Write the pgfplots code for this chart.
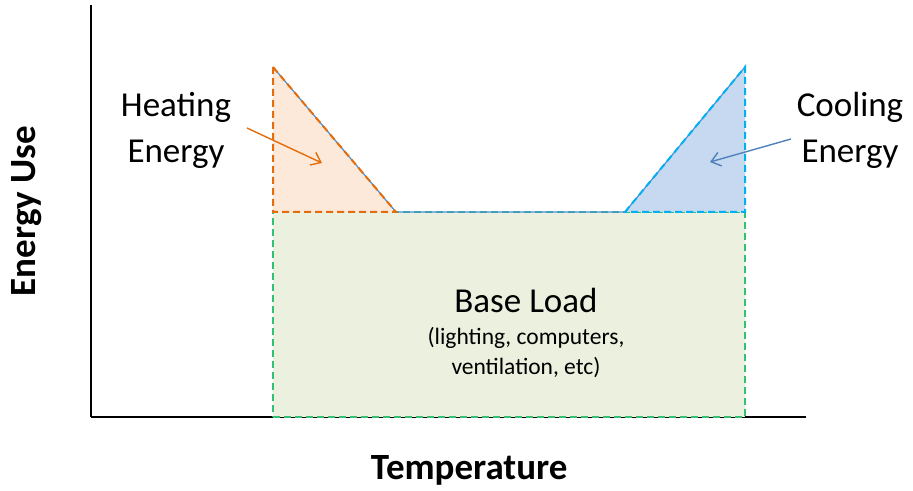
\documentclass[border=0pt]{standalone}
\usepackage{pgfplots}
\pgfplotsset{compat=1.18}
\usepackage{fontspec}
\setmainfont{Carlito}
\usetikzlibrary{arrows.meta}
\definecolor{heatline}{HTML}{E46C0A}
\definecolor{heatfill}{HTML}{FDE9D9}
\definecolor{coolline}{HTML}{00B0F0}
\definecolor{coolfill}{HTML}{C6D9F1}
\definecolor{baseline}{HTML}{00B050}
\definecolor{basefill}{HTML}{EBF1DE}
\definecolor{curve}{HTML}{4A90D9}
\definecolor{coolarrow}{HTML}{4F81BD}
\begin{document}
\begin{tikzpicture}[x=1pt,y=1pt]
\useasboundingbox (-91pt,-73pt) rectangle (822pt,417pt);
\begin{axis}[
  scale only axis, width=715pt, height=412pt,
  xmin=91, xmax=806, ymin=0, ymax=412,
  axis x line=bottom, axis y line=left,
  axis line style={-, line width=1.4pt, black},
  xtick=\empty, ytick=\empty,
  clip=false,
  xlabel={\bfseries Temperature},
  ylabel={\bfseries Energy Use},
  label style={font=\fontsize{37}{42}\selectfont},
  xlabel style={at={(axis description cs:0.529,-0.129)}, anchor=center},
  ylabel style={at={(axis description cs:-0.0895,0.5)}, anchor=center},
]
% base load
\addplot[fill=basefill, draw=baseline!80!white, dash pattern=on 7pt off 4pt, line width=2pt] coordinates {(273,0) (745,0) (745,205) (273,205)} -- cycle;
% heating
\addplot[fill=heatfill, draw=none] coordinates {(273,350) (273,205) (396,205)} -- cycle;
% cooling
\addplot[fill=coolfill, draw=none] coordinates {(625,205) (745,350) (745,205)} -- cycle;
% energy curve
\addplot[curve, line width=1.2pt] coordinates {(273,350) (396,205) (625,205) (745,350)};
% dashed borders
\addplot[heatline, dash pattern=on 7pt off 4pt, line width=2pt] coordinates {(273,350) (273,205) (396,205) (273,350)};
\addplot[coolline, dash pattern=on 7pt off 4pt, line width=2pt] coordinates {(625,205) (745,350) (745,205) (625,205)};
% labels
\node[align=center, font=\fontsize{35}{46}\selectfont] at (axis cs:176,287) {Heating\\Energy};
\node[align=center, font=\fontsize{35}{46}\selectfont] at (axis cs:850,287) {Cooling\\Energy};
\node[font=\fontsize{35}{40}\selectfont] at (axis cs:526,117) {Base Load};
\node[align=center, font=\fontsize{23.5}{30}\selectfont] at (axis cs:526,64) {(lighting, computers,\\ventilation, etc)};
% arrows
\draw[heatline, line width=1.4pt, -{Straight Barb[length=9pt,width=14pt]}] (axis cs:247,289) -- (axis cs:322,254);
\draw[coolarrow, line width=1.4pt, -{Straight Barb[length=9pt,width=14pt]}] (axis cs:791,278) -- (axis cs:710,255);
\end{axis}
\end{tikzpicture}
\end{document}
